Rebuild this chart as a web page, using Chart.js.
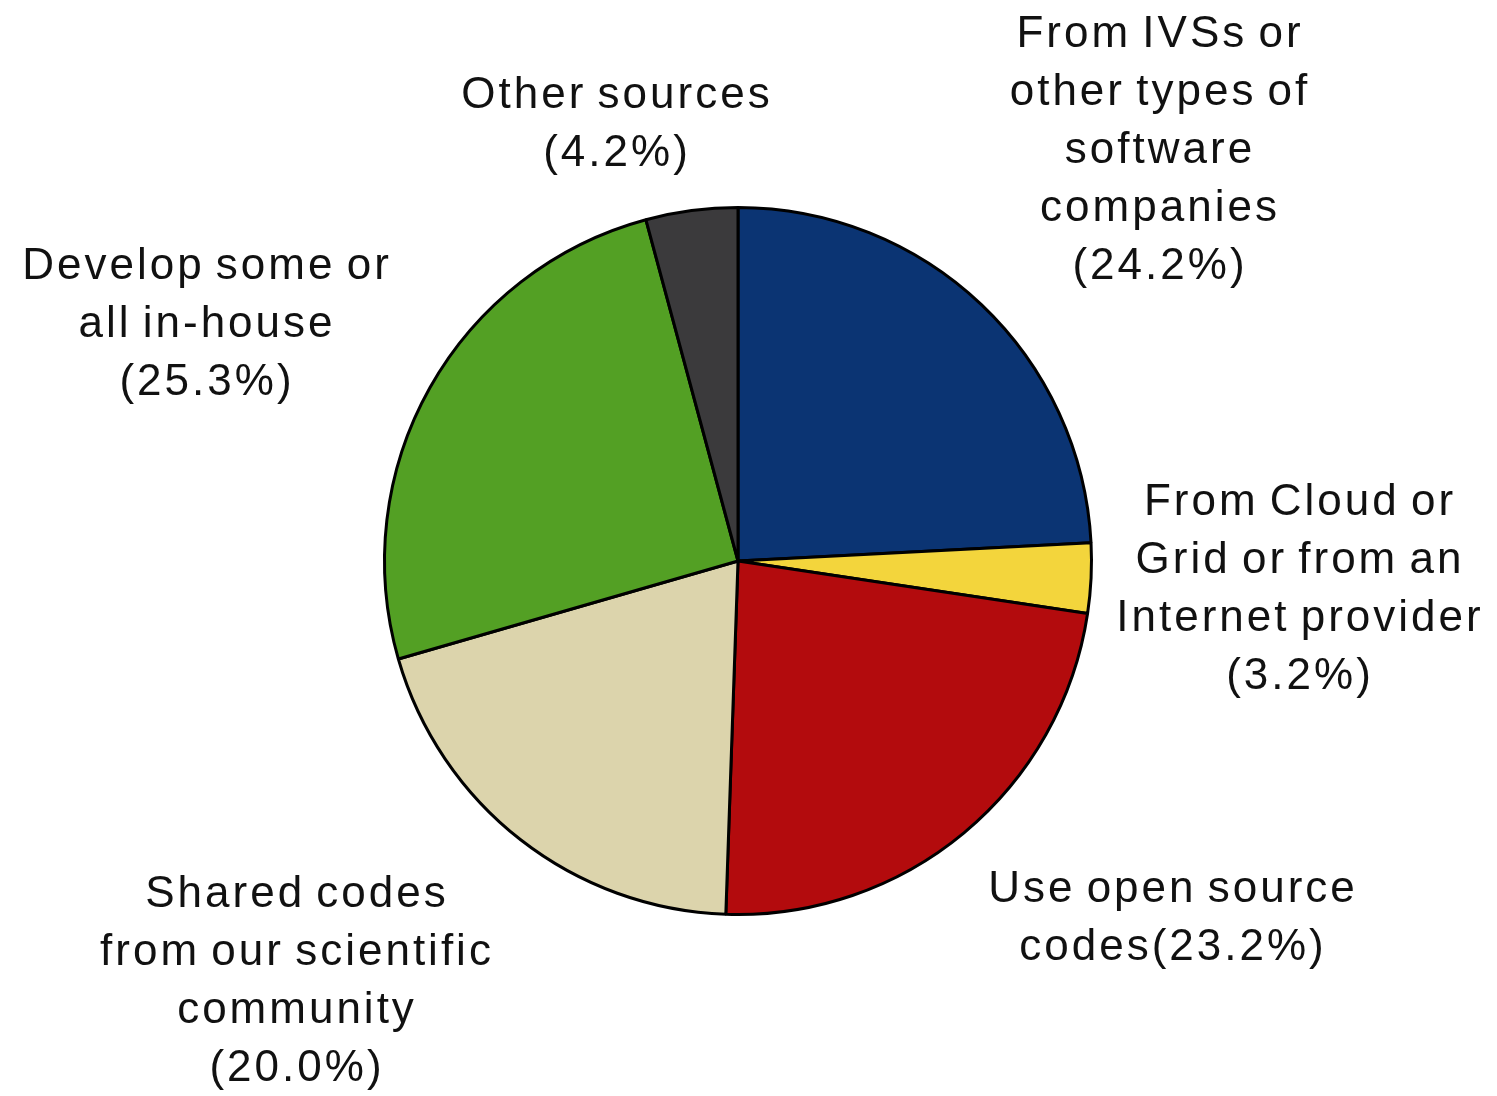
<!DOCTYPE html>
<html>
<head>
<meta charset="utf-8">
<script src="https://cdn.jsdelivr.net/npm/chart.js@4"></script>
<style>
  html, body { margin: 0; padding: 0; background: #fff; }
  #wrap { width: 1497px; height: 1096px; }
</style>
</head>
<body>
<div id="wrap"><canvas id="chart1" width="1497" height="1096"></canvas></div>
<script>
// data
const categories = [
  'From IVSs or other types of software companies',
  'From Cloud or Grid or from an Internet provider',
  'Use open source codes',
  'Shared codes from our scientific community',
  'Develop some or all in-house',
  'Other sources',
];
const shares = [24.2, 3.2, 23.2, 20.0, 25.3, 4.2];
// label text as printed, one entry per line
const labelLines = [
  ['From IVSs or', 'other types of', 'software', 'companies', '(24.2%)'],
  ['From Cloud or', 'Grid or from an', 'Internet provider', '(3.2%)'],
  ['Use open source', 'codes(23.2%)'],
  ['Shared codes', 'from our scientific', 'community', '(20.0%)'],
  ['Develop some or', 'all in-house', '(25.3%)'],
  ['Other sources', '(4.2%)'],
];

const colors = ['#0b3473', '#f3d53c', '#b30b0d', '#dcd4ac', '#53a024', '#3b3a3c'];
// where each label block sits, relative to the pie centre (first line centre)
const labelOffsets = [[422, -526], [562, -58], [435, 329], [-441, 334], [-531, -294], [-121, -465]];

// 바깥 라벨 그리기
const outerLabels = {
  id: 'outerLabels',
  afterDraw(chart) {
    const ctx = chart.ctx;
    const arc = chart.getDatasetMeta(0).data[0];
    ctx.save();
    ctx.font = '44px "Liberation Sans", Arial, sans-serif';
    ctx.letterSpacing = '3px';
    ctx.wordSpacing = '-4px';
    ctx.fillStyle = '#111';
    ctx.textAlign = 'center';
    ctx.textBaseline = 'middle';
    labelLines.forEach((lines, i) => {
      const [dx, dy] = labelOffsets[i];
      lines.forEach((t, j) => {
        ctx.fillText(t, arc.x + dx, arc.y + dy + j * 58);
      });
    });
    ctx.restore();
  }
};

var ctx = document.getElementById('chart1').getContext('2d');
new Chart(ctx, {
  type: 'pie',
  data: {
    labels: categories,
    datasets: [{
      data: shares,
      backgroundColor: colors,
      borderColor: '#000',
      borderWidth: 3,
    }],
  },
  options: {
    responsive: false,
    animation: false,
    layout: { padding: { top: 206, bottom: 180, left: 383, right: 404 } },
    plugins: {
      legend: { display: false },
      tooltip: { enabled: false },
    },
  },
  plugins: [outerLabels],
});
</script>
</body>
</html>
